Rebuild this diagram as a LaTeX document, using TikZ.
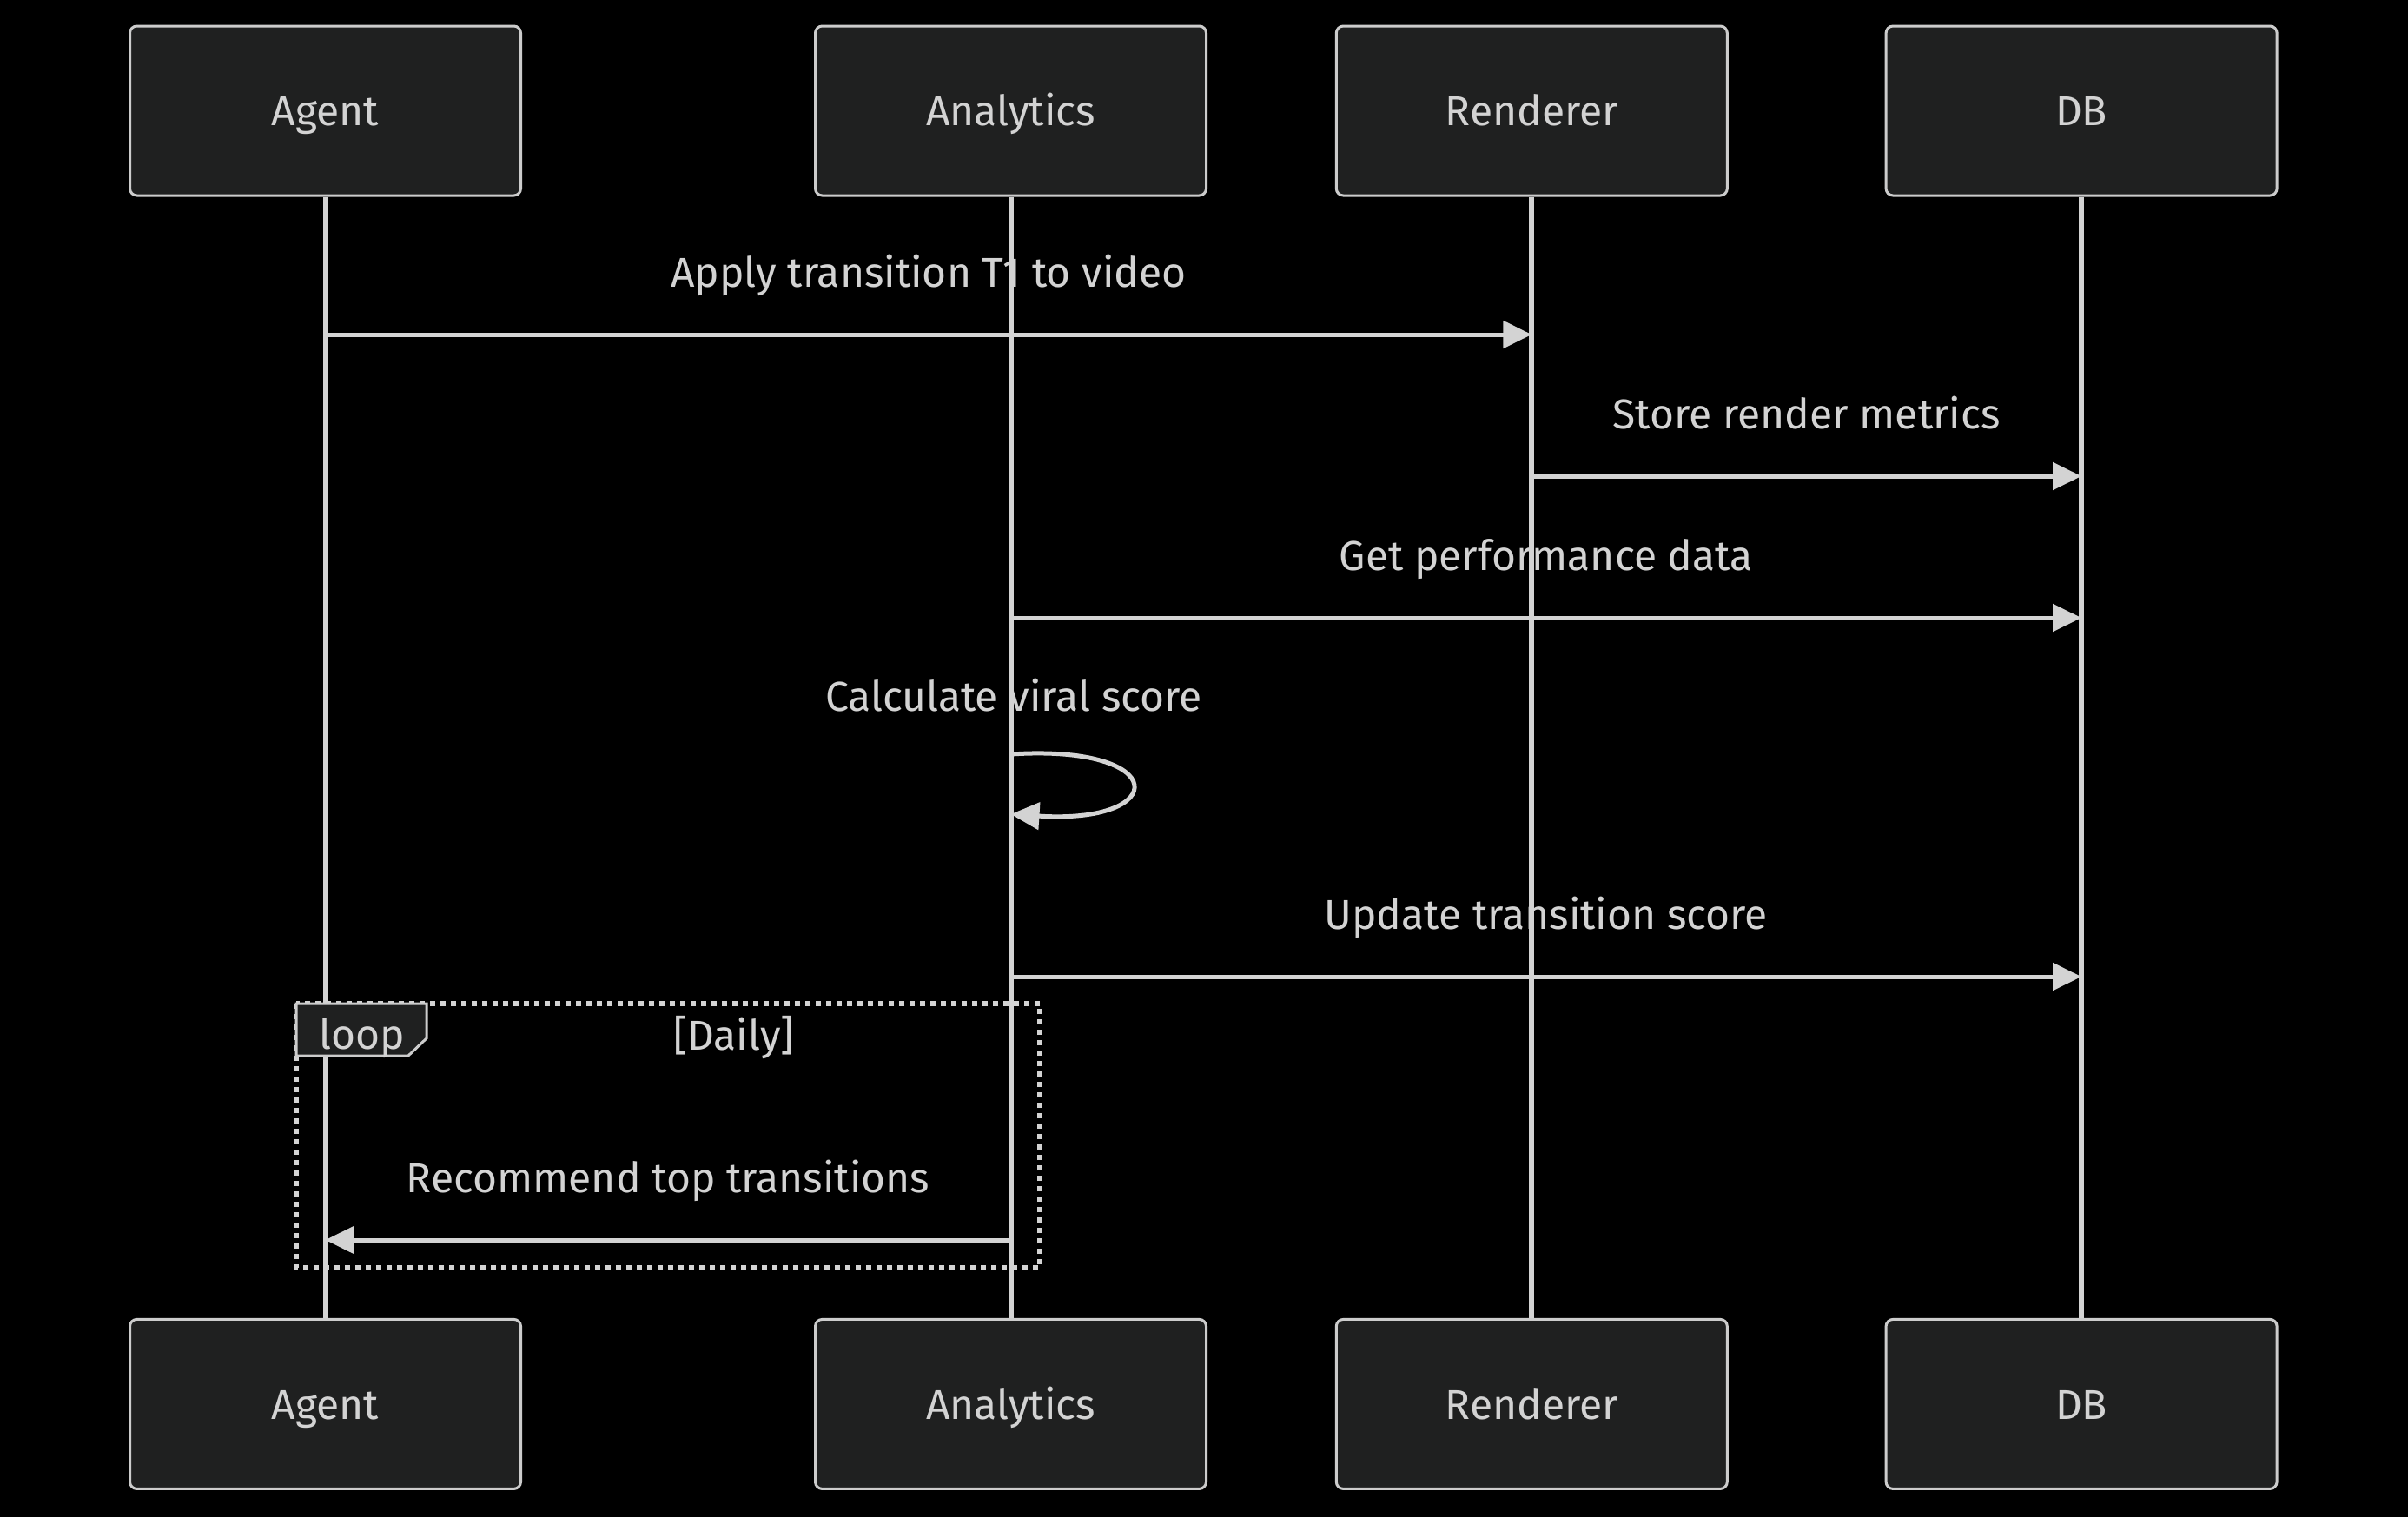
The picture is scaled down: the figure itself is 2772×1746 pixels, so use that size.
\documentclass[tikz,border=0pt]{standalone}
\usepackage{fontspec}
\setmainfont{Fira Sans}
\usetikzlibrary{positioning, arrows.meta}
\definecolor{actorfill}{HTML}{1F2020}
\definecolor{actorline}{HTML}{CCCCCC}
\definecolor{msgline}{HTML}{D3D3D3}
\tikzset{
    >={Triangle[length=8.25pt,width=7.75pt]}, % filled heads on every message
    every node/.style={text=msgline, font=\fontsize{12}{14}\selectfont,
        text height=0.98em, text depth=0.12em},
    actor/.style={draw=actorline, fill=actorfill, line width=0.75pt, rounded corners=2pt,
        minimum width=112.5pt, minimum height=48.75pt}, % participant boxes
    lifeline/.style={draw=msgline, line width=1.5pt},
    msg/.style={draw=msgline, line width=1.25pt, ->},
}

\begin{document}
\begin{tikzpicture}[
        x=0.25pt, y=-0.25pt,
        lbl/.style={midway, yshift=18pt},
        loopframe/.style={draw=msgline, line width=1.5pt, dash pattern=on 1.5pt off 1.5pt},
        looptab/.style={draw=actorline, fill=actorfill, line width=0.75pt},
    ]
    \fill[black] (0,0) rectangle (2772,1746);
    \useasboundingbox (0,0) rectangle (2772,1746);
    % participants
    \node[actor] (agent) at (374.5,127.5) {Agent};
    \node[actor, right=84pt of agent] (analytics) {Analytics};
    \node[actor, right=36.7pt of analytics] (renderer) {Renderer};
    \node[actor, right=44.95pt of renderer] (db) {DB};
    \node[actor, below=322.6pt of agent] (agentB) {Agent};
    \node[actor, below=322.6pt of analytics] (analyticsB) {Analytics};
    \node[actor, below=322.6pt of renderer] (rendererB) {Renderer};
    \node[actor, below=322.6pt of db] (dbB) {DB};
    \draw[lifeline]
    (agent) -- (agentB)
    (analytics) -- (analyticsB)
    (renderer) -- (rendererB)
    (db) -- (dbB);
    % loop block
    \draw[loopframe] (341,1155) rectangle (1197,1459);
    \draw[looptab] (341,1155) -- (491,1155) -- (491,1195) -- (470,1215) -- (341,1215) -- cycle;
    \node (looptag) at (417,1190) {loop};
    \node (loopcond) at (845,1191) {[Daily]};
    % messages
    \draw[msg] (agent |- 0,385) -- (renderer |- 0,385) node[lbl] {Apply transition T1 to video};
    \draw[msg] (renderer |- 0,548) -- (db |- 0,548) node[lbl] {Store render metrics};
    \draw[msg] (analytics |- 0,711) -- (db |- 0,711) node[lbl] {Get performance data};
    \node (calclabel) at (1167,801) {Calculate viral score};
    \draw[msg] (analytics |- 0,868) .. controls (1348,856) and (1348,949) .. (analytics |- 0,937);
    \draw[msg] (analytics |- 0,1124) -- (db |- 0,1124) node[lbl] {Update transition score};
    \draw[msg] (analytics |- 0,1427) -- (agent |- 0,1427) node[lbl] {Recommend top transitions};
\end{tikzpicture}
\end{document}
